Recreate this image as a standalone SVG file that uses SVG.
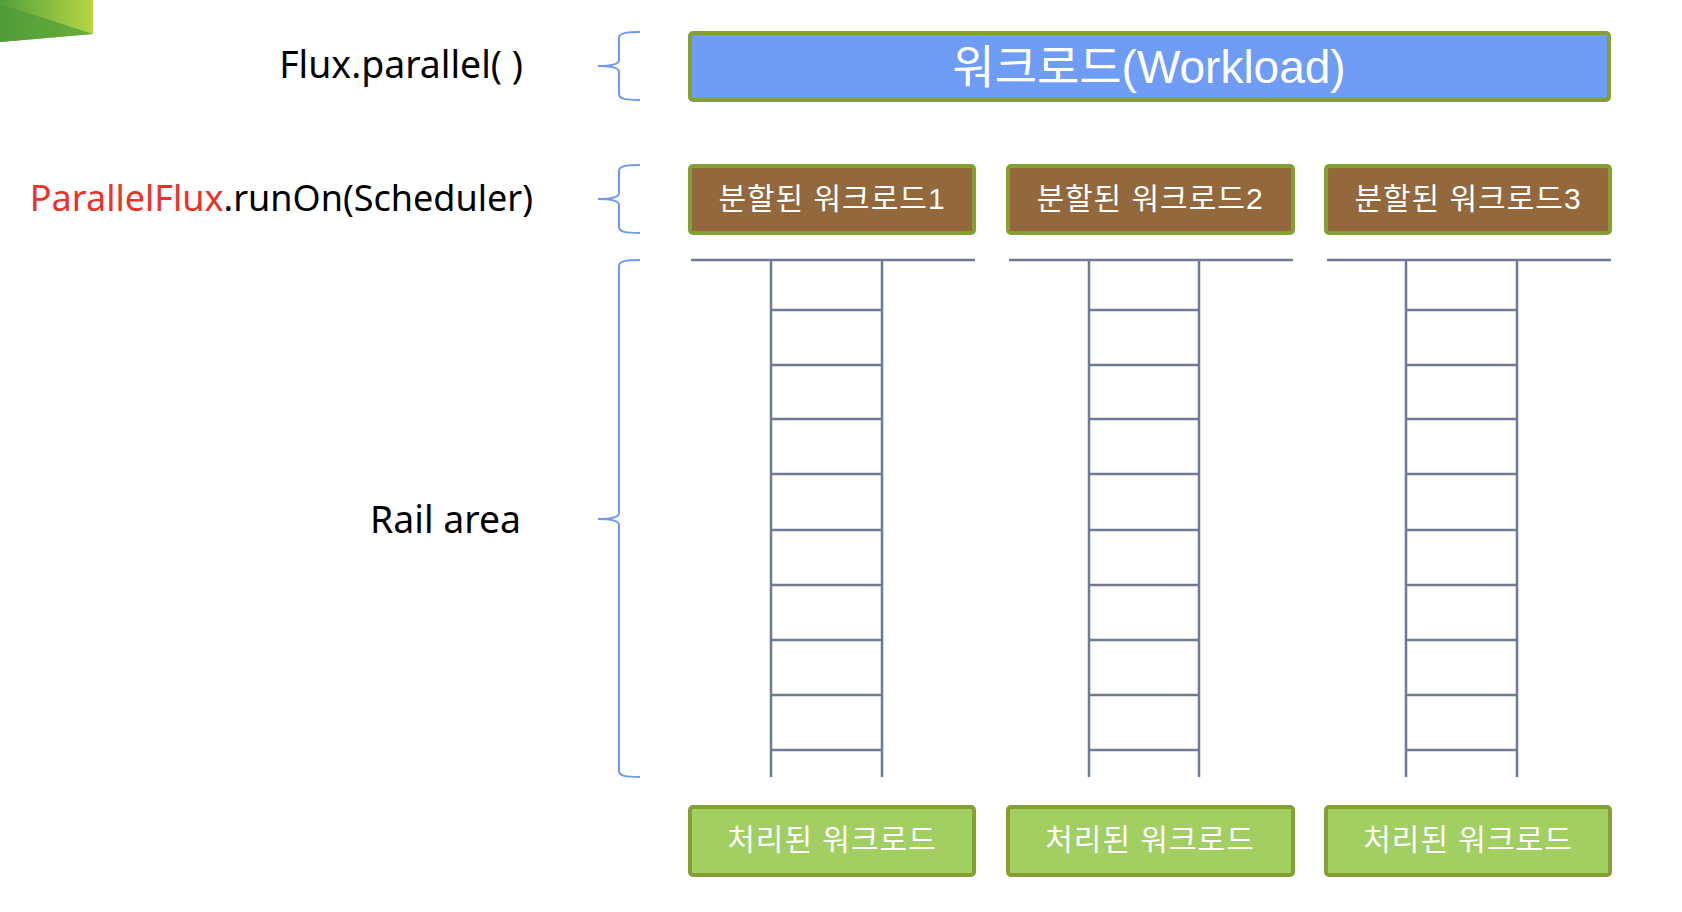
<svg xmlns="http://www.w3.org/2000/svg" width="1682" height="912" viewBox="0 0 1682 912">
<defs>
<linearGradient id="corner" x1="0" y1="0" x2="1" y2="0">
<stop offset="0" stop-color="#52a03a"/>
<stop offset="1" stop-color="#b7d745"/>
</linearGradient>
<linearGradient id="cornerDark" x1="0" y1="0" x2="1" y2="0">
<stop offset="0" stop-color="#4f9c38"/>
<stop offset="1" stop-color="#6aae3a"/>
</linearGradient>
<style>
.lbl{font-family:"Noto Sans","Noto Sans CJK KR",sans-serif;font-size:36px;fill:#000}
.lbl.big{font-size:37.4px}
.red{fill:#e8322a}
.box{stroke:#84a030;stroke-width:4}
.blue{fill:#6f9cf5}
.brown{fill:#93683d}
.green{fill:#a2cf62}
.bt{font-family:"Liberation Sans","Noto Sans CJK KR",sans-serif;font-size:30px;letter-spacing:1px;fill:#fff;text-anchor:middle}
.wt{font-family:"Liberation Sans","Noto Sans CJK KR",sans-serif;font-size:46px;fill:#fff;text-anchor:middle}
.brace{fill:none;stroke:#6f98f5;stroke-width:2}
.rail{stroke:#717a94;stroke-width:2.5;fill:none}
</style>
</defs>
<rect width="1682" height="912" fill="#fff"/>
<g id="corner-deco">
<polygon points="0,0 93,0 93,34 0,42" fill="url(#corner)"/>
<polygon points="0,4 93,34 0,42" fill="url(#cornerDark)"/>
</g>
<g id="labels">
<text id="lbl-flux" class="lbl big" x="523" y="78" text-anchor="end">Flux.parallel( )</text>
<text id="lbl-runon" class="lbl" x="533" y="211" text-anchor="end"><tspan class="red">ParallelFlux</tspan>.runOn(Scheduler)</text>
<text id="lbl-rail" class="lbl big" x="521" y="533" text-anchor="end">Rail area</text>
</g>
<g id="connectors">
<path class="brace" d="M640,32 C626,32 619,33 619,38 L619,60 C619,64 612,66 598,66 C612,66 619,68 619,72 L619,94 C619,99 626,100 640,100"/>
<path class="brace" d="M640,165 C626,165 619,166 619,171 L619,193 C619,197 612,199 598,199 C612,199 619,201 619,205 L619,227 C619,232 626,233 640,233"/>
<path class="brace" d="M640,260 C626,260 619,261 619,266 L619,513 C619,517 612,519 598,519 C612,519 619,521 619,525 L619,771 C619,776 626,777 640,777"/>
</g>
<g id="workload">
<rect class="box blue" x="690" y="33" width="919" height="67" rx="3"/>
<text class="wt" x="1149" y="83">워크로드(Workload)</text>
</g>
<g id="split1">
<rect class="box brown" x="690" y="166" width="284" height="67" rx="3"/>
<text class="bt" x="832" y="209">분할된 워크로드1</text>
</g>
<g id="split2">
<rect class="box brown" x="1008" y="166" width="285" height="67" rx="3"/>
<text class="bt" x="1150" y="209">분할된 워크로드2</text>
</g>
<g id="split3">
<rect class="box brown" x="1326" y="166" width="284" height="67" rx="3"/>
<text class="bt" x="1468" y="209">분할된 워크로드3</text>
</g>
<g id="rail1">
<path class="rail" d="M691,260 H975 M771,260 V777 M882,260 V777 M771,310 H882 M771,365 H882 M771,419 H882 M771,474 H882 M771,530 H882 M771,585 H882 M771,640 H882 M771,695 H882 M771,750 H882"/>
</g>
<g id="rail2">
<path class="rail" d="M1009,260 H1293 M1089,260 V777 M1199,260 V777 M1089,310 H1199 M1089,365 H1199 M1089,419 H1199 M1089,474 H1199 M1089,530 H1199 M1089,585 H1199 M1089,640 H1199 M1089,695 H1199 M1089,750 H1199"/>
</g>
<g id="rail3">
<path class="rail" d="M1327,260 H1611 M1406,260 V777 M1517,260 V777 M1406,310 H1517 M1406,365 H1517 M1406,419 H1517 M1406,474 H1517 M1406,530 H1517 M1406,585 H1517 M1406,640 H1517 M1406,695 H1517 M1406,750 H1517"/>
</g>
<g id="done1">
<rect class="box green" x="690" y="807" width="284" height="68" rx="3"/>
<text class="bt" x="832" y="850">처리된 워크로드</text>
</g>
<g id="done2">
<rect class="box green" x="1008" y="807" width="285" height="68" rx="3"/>
<text class="bt" x="1150" y="850">처리된 워크로드</text>
</g>
<g id="done3">
<rect class="box green" x="1326" y="807" width="284" height="68" rx="3"/>
<text class="bt" x="1468" y="850">처리된 워크로드</text>
</g>
</svg>
